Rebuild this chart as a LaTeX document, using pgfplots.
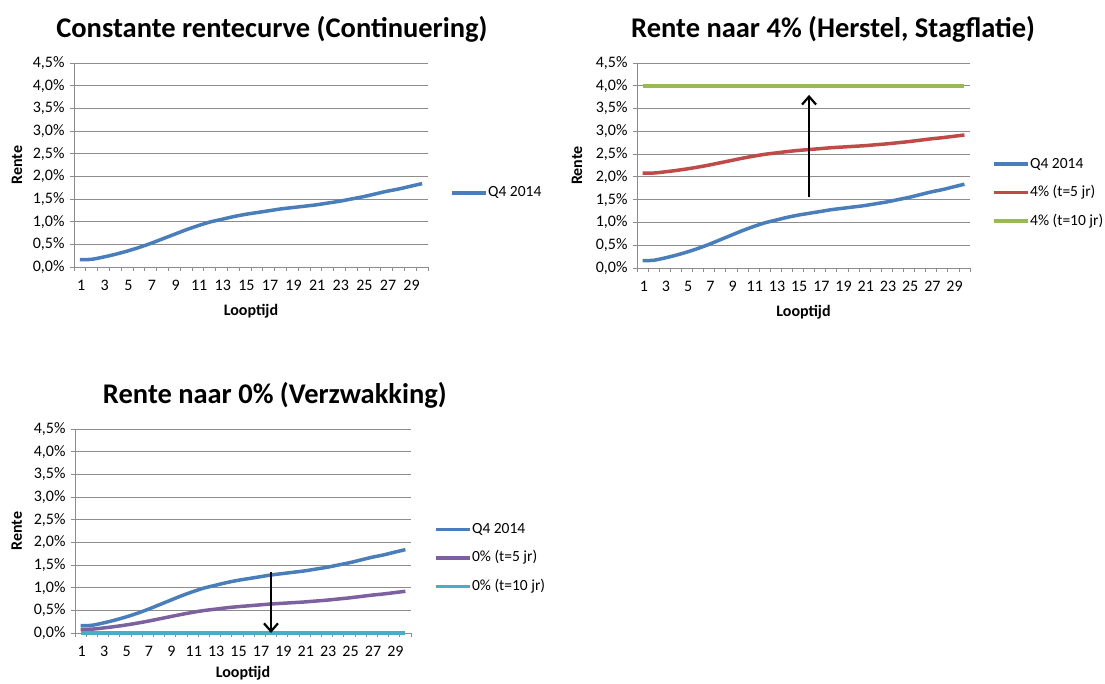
\documentclass[border=0pt]{standalone}
\usepackage{pgfplots}
\pgfplotsset{compat=1.18}
\usepackage{pgfplotstable}
\usepackage{fontspec}
\setmainfont{Carlito}
\usetikzlibrary{arrows.meta}

\definecolor{cblue}{RGB}{74,126,187}
\definecolor{cred}{RGB}{190,75,72}
\definecolor{cgreen}{RGB}{152,185,84}
\definecolor{cpurple}{RGB}{125,96,160}
\definecolor{caqua}{RGB}{75,172,198}
\definecolor{cgrid}{RGB}{140,140,140}

\pgfplotstableread{
x  q4    up5    up10 dn5   dn10
1  0.16  2.080  4.0  0.080 0.0
2  0.17  2.085  4.0  0.085 0.0
3  0.22  2.110  4.0  0.110 0.0
4  0.28  2.140  4.0  0.140 0.0
5  0.35  2.175  4.0  0.175 0.0
6  0.43  2.215  4.0  0.215 0.0
7  0.52  2.260  4.0  0.260 0.0
8  0.62  2.310  4.0  0.310 0.0
9  0.72  2.360  4.0  0.360 0.0
10 0.82  2.410  4.0  0.410 0.0
11 0.91  2.455  4.0  0.455 0.0
12 0.99  2.495  4.0  0.495 0.0
13 1.05  2.525  4.0  0.525 0.0
14 1.11  2.555  4.0  0.555 0.0
15 1.16  2.580  4.0  0.580 0.0
16 1.20  2.600  4.0  0.600 0.0
17 1.24  2.620  4.0  0.620 0.0
18 1.28  2.640  4.0  0.640 0.0
19 1.31  2.655  4.0  0.655 0.0
20 1.34  2.670  4.0  0.670 0.0
21 1.37  2.685  4.0  0.685 0.0
22 1.41  2.705  4.0  0.705 0.0
23 1.45  2.725  4.0  0.725 0.0
24 1.50  2.750  4.0  0.750 0.0
25 1.55  2.775  4.0  0.775 0.0
26 1.61  2.805  4.0  0.805 0.0
27 1.67  2.835  4.0  0.835 0.0
28 1.72  2.860  4.0  0.860 0.0
29 1.78  2.890  4.0  0.890 0.0
30 1.84  2.920  4.0  0.920 0.0
}\data

\tikzset{arr/.style={black, line width=2.2pt, -{Straight Barb[length=8pt,width=14pt,line width=2.2pt]}}}

\pgfplotsset{
  excel/.style={
    scale only axis, anchor=south west, clip=false,
    xmin=0.5, xmax=30.5, ymin=0, ymax=4.5,
    axis x line=bottom, axis y line=left,
    axis line style={-, draw=cgrid, line width=0.8pt},
    ytick={0,0.5,1,1.5,2,2.5,3,3.5,4,4.5},
    yticklabels={{0,0\%},{0,5\%},{1,0\%},{1,5\%},{2,0\%},{2,5\%},{3,0\%},{3,5\%},{4,0\%},{4,5\%}},
    xtick={0.5,1.5,...,30.5},
    xticklabels={1,,3,,5,,7,,9,,11,,13,,15,,17,,19,,21,,23,,25,,27,,29,,},
    tick align=outside, major tick length=4pt,
    tick style={draw=cgrid, line width=0.8pt},
    ymajorgrids, grid style={draw=cgrid, line width=0.8pt},
    tick label style={font=\fontsize{16}{19}\selectfont},
    yticklabel style={xshift=-2pt},
    label style={font=\bfseries\fontsize{16}{19}\selectfont},
    xlabel={Looptijd}, ylabel={Rente},
    xlabel style={at={(axis description cs:0.5,0)}, anchor=center, yshift=-44pt},
    title style={anchor=center, font=\bfseries\fontsize{28.5}{33}\selectfont},
    legend style={anchor=west, draw=none, fill=none, inner sep=0pt, xshift=-3pt,
      font=\fontsize{15.5}{19}\selectfont, row sep=12.5pt,
      nodes={inner xsep=0.5pt, inner ysep=0pt, text height=12pt, text depth=4pt}},
    legend cell align=left,
    legend image code/.code={\draw[##1, line width=3.5pt] (0pt,0pt) -- (34pt,0pt);},
  },
  ser/.style={line width=3.5pt, smooth},
}

\begin{document}
\begin{tikzpicture}
\path[use as bounding box] (0,0) rectangle (1105pt,683pt);

% Chart 1
\begin{axis}[excel, at={(74pt,416pt)}, width=354pt, height=204pt,
  xticklabel style={xshift=7.2pt, yshift=-6pt},
  title={Constante rentecurve (Continuering)},
  title style={at={(axis description cs:0.559,1)}, yshift=28pt},
  ylabel style={at={(axis description cs:-0.161,0.5)}, anchor=center},
  legend style={at={(axis description cs:1.0706,0.363)}}]
\addplot[cblue, ser] table[x=x,y=q4]{\data};
\addlegendentry{Q4 2014}
\end{axis}

% Chart 2
\begin{axis}[excel, at={(637pt,415pt)}, width=333pt, height=205pt,
  xticklabel style={xshift=6.8pt, yshift=-6pt},
  title={Rente naar 4\% (Herstel, Stagflatie)},
  title style={at={(axis description cs:0.589,1)}, yshift=28pt},
  ylabel style={at={(axis description cs:-0.18,0.5)}, anchor=center},
  legend style={at={(axis description cs:1.075,0.368)}}]
\addplot[cblue, ser] table[x=x,y=q4]{\data};
\addlegendentry{Q4 2014}
\addplot[cred, ser] table[x=x,y=up5]{\data};
\addlegendentry{4\% (t=5 jr)}
\addplot[cgreen, ser] table[x=x,y=up10]{\data};
\addlegendentry{4\% (t=10 jr)}
\draw[arr] (axis cs:16,1.55) -- (axis cs:16,3.80);
\end{axis}

% Chart 3
\begin{axis}[excel, at={(75pt,50pt)}, width=336pt, height=204pt,
  xticklabel style={xshift=6.8pt, yshift=-6pt},
  xlabel style={yshift=4pt},
  title={Rente naar 0\% (Verzwakking)},
  title style={at={(axis description cs:0.595,1)}, yshift=28pt},
  ylabel style={at={(axis description cs:-0.173,0.5)}, anchor=center},
  legend style={at={(axis description cs:1.077,0.368)}}]
\addplot[cblue, ser] table[x=x,y=q4]{\data};
\addlegendentry{Q4 2014}
\addplot[cpurple, ser] table[x=x,y=dn5]{\data};
\addlegendentry{0\% (t=5 jr)}
\addplot[caqua, ser] table[x=x,y=dn10]{\data};
\addlegendentry{0\% (t=10 jr)}
\draw[arr] (axis cs:18,1.35) -- (axis cs:18,0.0);
\end{axis}
\end{tikzpicture}
\end{document}
